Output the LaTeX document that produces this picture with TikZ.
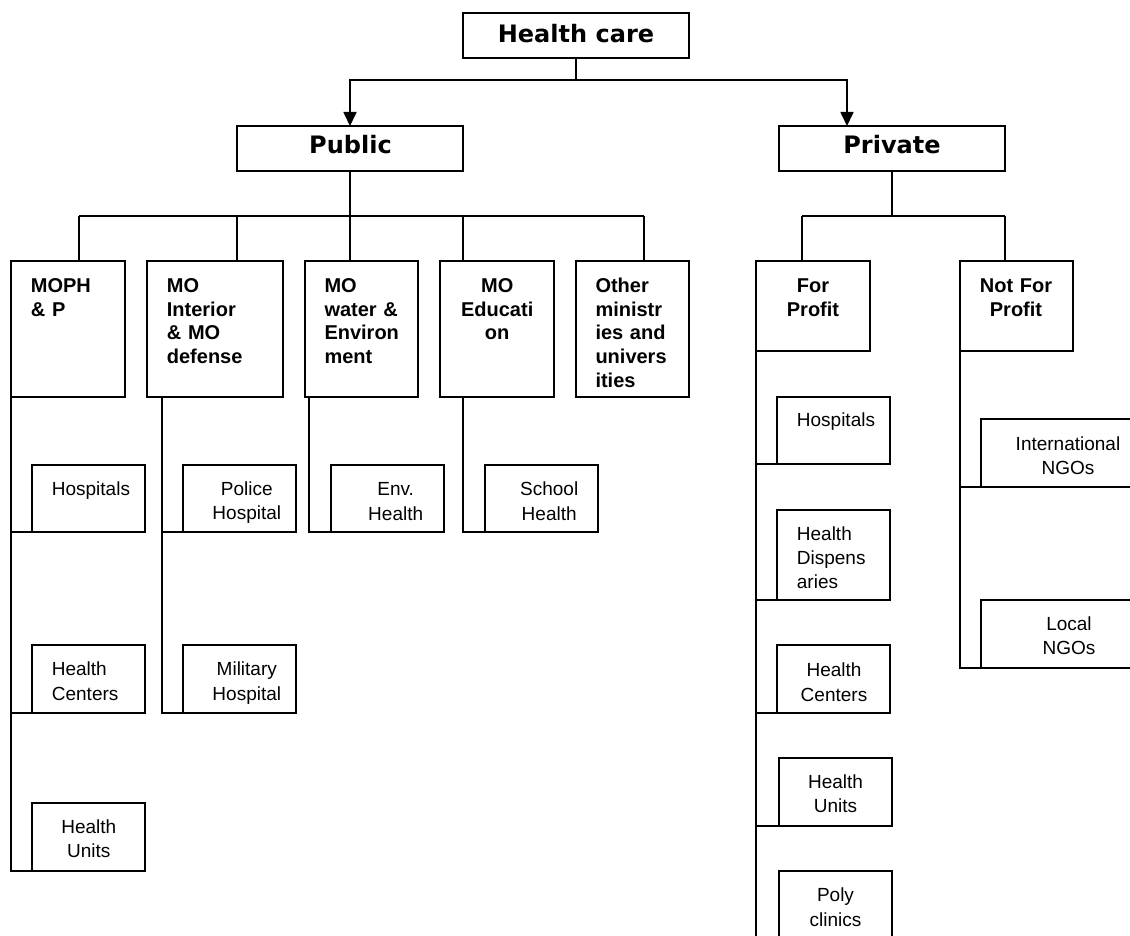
\documentclass[tikz,border=0pt]{standalone}
\usepackage{fontspec}
\setmainfont{Liberation Sans}
\newfontfamily\topfont{DejaVu Sans}
\usetikzlibrary{arrows.meta,calc}
\tikzset{
  box/.style={draw, line width=1.7pt, rectangle, anchor=north west, inner sep=0pt, outer sep=0pt},
  conn/.style={line width=1.7pt},
  toptext/.style={inner sep=0pt, anchor=base, font=\topfont\fontsize{24}{28}\selectfont\bfseries},
  headL/.style={inner sep=0pt, anchor=base west, align=left, text width=100pt, font=\fontsize{20}{23.7}\selectfont\bfseries},
  headC/.style={inner sep=0pt, anchor=base, align=center, text width=110pt, font=\fontsize{20}{23.7}\selectfont\bfseries},
  bodyL/.style={inner sep=0pt, anchor=base west, align=left, text width=100pt, font=\fontsize{19}{24.3}\selectfont},
  bodyC/.style={inner sep=0pt, anchor=base, align=center, text width=120pt, font=\fontsize{19}{24.3}\selectfont},
}
\begin{document}
\begin{tikzpicture}[x=1pt,y=-1pt]
\useasboundingbox (0,0) rectangle (1130,936);
\clip (0,0) rectangle (1130,936);
% top level
\node[box, minimum width=226pt, minimum height=45pt] (hc) at (463,13) {};
\node[box, minimum width=226pt, minimum height=45pt] (public) at (237,126) {};
\node[box, minimum width=226pt, minimum height=45pt] (private) at (779,126) {};
\node[toptext] (hcT) at (576,42.3) {Health care};
\node[toptext] (publicT) at (350.5,154) {Public};
\node[toptext] (privateT) at (892,154) {Private};
% second level boxes
\node[box, minimum width=114pt, minimum height=136pt] (moph) at (11,261) {};
\node[box, minimum width=136pt, minimum height=136pt] (interior) at (147,261) {};
\node[box, minimum width=113pt, minimum height=136pt] (water) at (305,261) {};
\node[box, minimum width=114pt, minimum height=136pt] (edu) at (440,261) {};
\node[box, minimum width=113pt, minimum height=136pt] (other) at (576,261) {};
\node[box, minimum width=114pt, minimum height=90pt] (forp) at (756,261) {};
\node[box, minimum width=113pt, minimum height=90pt] (notp) at (960,261) {};
\node[headL] (mophT) at (30.7,292.3) {MOPH\\\& P};
\node[headL] (interiorT) at (166.7,292.3) {MO\\Interior\\\& MO\\defense};
\node[headL] (waterT) at (324.3,292.3) {MO\\water \&\\Environ\\ment};
\node[headC] (eduT) at (497.2,292.3) {MO\\Educati\\on};
\node[headL] (otherT) at (595.3,292.3) {Other\\ministr\\ies and\\univers\\ities};
\node[headC] (forpT) at (813,292.3) {For\\Profit};
\node[headC] (notpT) at (1016,292.3) {Not For\\Profit};
% third level boxes
\node[box, minimum width=113pt, minimum height=67pt] (mhosp) at (32,465) {};
\node[box, minimum width=113pt, minimum height=68pt] (mhc) at (32,645) {};
\node[box, minimum width=113pt, minimum height=68pt] (mhu) at (32,803) {};
\node[box, minimum width=113pt, minimum height=67pt] (police) at (183,465) {};
\node[box, minimum width=113pt, minimum height=68pt] (military) at (183,645) {};
\node[box, minimum width=113pt, minimum height=67pt] (env) at (331,465) {};
\node[box, minimum width=113pt, minimum height=67pt] (school) at (485,465) {};
\node[box, minimum width=113pt, minimum height=67pt] (phosp) at (777,397) {};
\node[box, minimum width=113pt, minimum height=90pt] (pdisp) at (777,510) {};
\node[box, minimum width=113pt, minimum height=68pt] (pcent) at (777,645) {};
\node[box, minimum width=113pt, minimum height=68pt] (punits) at (779,758) {};
\node[box, minimum width=113pt, minimum height=80pt] (ppoly) at (779,871) {};
\node[box, minimum width=170pt, minimum height=68pt] (intngo) at (981,419) {};
\node[box, minimum width=170pt, minimum height=68pt] (localngo) at (981,600) {};
\node[bodyL] (mhospT) at (51.7,495) {Hospitals};
\node[bodyL] (mhcT) at (51.7,675.7) {Health\\Centers};
\node[bodyC] (mhuT) at (88.8,833.3) {Health\\Units};
\node[bodyC] (policeT) at (246.8,495) {Police\\Hospital};
\node[bodyC] (militaryT) at (246.8,675.7) {Military\\Hospital};
\node[bodyC] (envT) at (395.7,495.7) {Env.\\Health};
\node[bodyC] (schoolT) at (549.2,495.7) {School\\Health};
\node[bodyL] (phospT) at (796.7,426.7) {Hospitals};
\node[bodyL] (pdispT) at (796.7,540) {Health\\Dispens\\aries};
\node[bodyC] (pcentT) at (834,676.7) {Health\\Centers};
\node[bodyC] (punitsT) at (835.5,788.3) {Health\\Units};
\node[bodyC] (ppolyT) at (835.5,901.7) {Poly\\clinics};
\node[bodyC] (intngoT) at (1068,450.5) {International\\NGOs};
\node[bodyC] (localngoT) at (1069,630) {Local\\NGOs};
% connector coordinates
\coordinate (hcbus) at (576,80);
\coordinate (privIn) at (847,126);
\coordinate (pubbus) at (350,216);
\coordinate (privbus) at (892,216);
\coordinate (mophIn) at (79,261);
\coordinate (intIn) at (237,261);
\coordinate (waterIn) at (350,261);
\coordinate (eduIn) at (463,261);
\coordinate (otherIn) at (644,261);
\coordinate (forIn) at (802,261);
\coordinate (notIn) at (1005,261);
\coordinate (intOut) at (162,397);
\coordinate (waterOut) at (309,397);
\coordinate (eduOut) at (463,397);
\coordinate (fpEnd) at (756,960);
% top connectors
\draw[conn] (hc.south) -- (hcbus);
\draw[conn, -{Triangle[width=13pt,length=14pt]}] (hcbus) -| (public.north);
\draw[conn, -{Triangle[width=13pt,length=14pt]}] (hcbus) -| (privIn);
% public bus
\draw[conn] (public.south) -- (pubbus);
\draw[conn] (pubbus -| mophIn) -- (pubbus -| otherIn);
\foreach \c in {mophIn,intIn,waterIn,eduIn,otherIn} \draw[conn] (pubbus -| \c) -- (\c);
% private bus
\draw[conn] (private.south) -- (privbus);
\draw[conn] (privbus -| forIn) -- (privbus -| notIn);
\foreach \c in {forIn,notIn} \draw[conn] (privbus -| \c) -- (\c);
% ministry children
\draw[conn] (moph.south west) |- (mhu.south west);
\draw[conn] (moph.south west) |- (mhosp.south west);
\draw[conn] (moph.south west) |- (mhc.south west);
\draw[conn] (intOut) |- (military.south west);
\draw[conn] (intOut) |- (police.south west);
\draw[conn] (waterOut) |- (env.south west);
\draw[conn] (eduOut) |- (school.south west);
% private children
\draw[conn] (forp.south west) -- (fpEnd);
\foreach \c in {phosp,pdisp,pcent,punits,ppoly} \draw[conn] (forp.south west) |- (\c.south west);
\draw[conn] (notp.south west) |- (localngo.south west);
\draw[conn] (notp.south west) |- (intngo.south west);
\end{tikzpicture}
\end{document}
